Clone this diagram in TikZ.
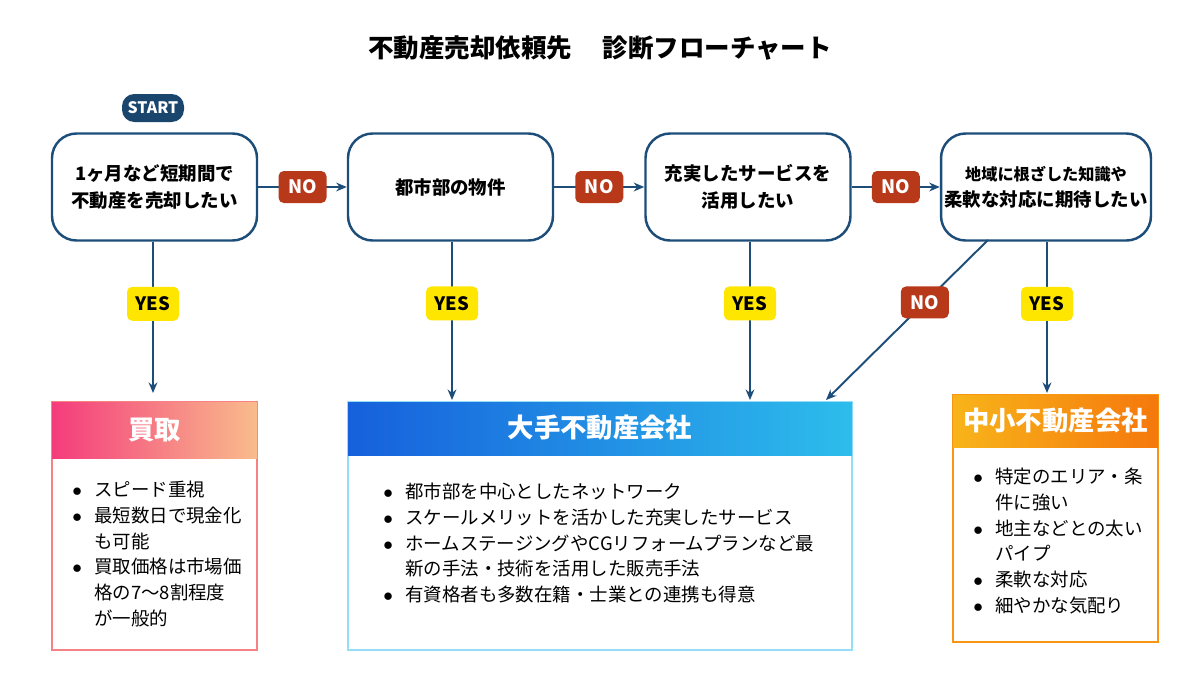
\documentclass[tikz,border=0pt]{standalone}
\usepackage{fontspec}
\setmainfont{Noto Sans CJK JP}
\usetikzlibrary{arrows.meta}
\definecolor{navy}{HTML}{1D4E7A}
\definecolor{nored}{HTML}{B8391A}
\definecolor{yes}{HTML}{FFE600}
\definecolor{pinkA}{HTML}{F43C7C}
\definecolor{peachB}{HTML}{F9BC8C}
\definecolor{blueA}{HTML}{1660DC}
\definecolor{cyanB}{HTML}{2DBDEC}
\definecolor{orA}{HTML}{F8B41A}
\definecolor{orB}{HTML}{F5780C}
\begin{document}
\begin{tikzpicture}[x=0.02cm,y=-0.02cm,
 proc/.style={draw=navy,line width=1.4pt,rounded corners=14pt,minimum width=205*0.02cm,minimum height=107*0.02cm,align=center,font=\fontsize{10.5}{15}\selectfont\bfseries,fill=white,inner xsep=2pt},
 nolab/.style={fill=nored,text=white,rounded corners=3pt,minimum width=48*0.02cm,minimum height=32*0.02cm,font=\fontsize{10.5}{12}\selectfont\bfseries,inner sep=0pt},
 yeslab/.style={fill=yes,text=black,rounded corners=3pt,minimum width=52*0.02cm,minimum height=34*0.02cm,font=\fontsize{10.5}{12}\selectfont\bfseries,inner sep=0pt},
 arr/.style={draw=navy,line width=1.1pt,-{Stealth[length=6pt,width=5pt]}},
 hdr/.style={font=\fontsize{15}{18}\selectfont\bfseries,text=white},
 lst/.style={anchor=north west,inner sep=0pt,align=left,font=\fontsize{10.5}{14.7}\selectfont}]
\useasboundingbox (0,0) rectangle (1200,690);
\fill[white] (0,0) rectangle (1200,690);
\node (title) at (600,48) {\fontsize{14.5}{16}\selectfont\bfseries 不動産売却依頼先\hspace{1.2em}診断フローチャート};
\node[fill=navy!90!black,text=white,rounded corners=7pt,minimum width=62*0.02cm,minimum height=28*0.02cm,inner sep=0pt,font=\fontsize{9}{10}\selectfont\bfseries] (start) at (153,108) {START};
\node[proc] (b1) at (154.5,187) {1ヶ月など短期間で\\不動産を売却したい};
\node[proc] (b2) at (450.5,187) {都市部の物件};
\node[proc] (b3) at (748,187) {充実したサービスを\\活用したい};
\node[proc] (b4) at (1046,187) {\fontsize{9.2}{15}\selectfont 地域に根ざした知識や\\柔軟な対応に期待したい};
% bottom boxes
\draw[line width=1.5pt,draw=pinkA!45!peachB] (52,402) rectangle (257,650);
\shade[left color=pinkA,right color=peachB] (52,402) rectangle (257,458);
\node[hdr] (kaitori) at (154.5,430) {買取};
\draw[line width=1.5pt,draw=cyanB!50!white] (348,402) rectangle (852,650);
\shade[left color=blueA,right color=cyanB] (348,402) rectangle (852,455);
\node[hdr] (ote) at (600,428) {大手不動産会社};
\draw[line width=1.5pt,draw=orA!50!orB] (953,395) rectangle (1158,642);
\shade[left color=orA,right color=orB] (953,395) rectangle (1158,447);
\node[hdr] (chusho) at (1055.5,421) {中小不動産会社};
\node[lst] (l1) at (72,478) {\begin{tabular}{@{}l@{\hspace{7pt}}l@{}}$\bullet$&スピード重視\\$\bullet$&最短数日で現金化\\&も可能\\$\bullet$&買取価格は市場価\\&格の7〜8割程度\\&が一般的\end{tabular}};
\node[lst] (l2) at (383,480) {\begin{tabular}{@{}l@{\hspace{7pt}}l@{}}$\bullet$&都市部を中心としたネットワーク\\$\bullet$&スケールメリットを活かした充実したサービス\\$\bullet$&ホームステージングやCGリフォームプランなど最\\&新の手法・技術を活用した販売手法\\$\bullet$&有資格者も多数在籍・士業との連携も得意\end{tabular}};
\node[lst] (l3) at (973,465) {\begin{tabular}{@{}l@{\hspace{7pt}}l@{}}$\bullet$&特定のエリア・条\\&件に強い\\$\bullet$&地主などとの太い\\&パイプ\\$\bullet$&柔軟な対応\\$\bullet$&細やかな気配り\end{tabular}};
\coordinate (t1) at (153,393);
\coordinate (t2) at (452,400);
\coordinate (t3) at (750,400);
\coordinate (t4) at (1047,393);
\coordinate (t5) at (826,400);
\coordinate (s5) at (988,240);
% arrows
\draw[arr] (b1) -- (b2) node[nolab,midway] (n1) {NO};
\draw[arr] (b2) -- (b3) node[nolab,midway] (n2) {NO};
\draw[arr] (b3) -- (b4) node[nolab,midway] (n3) {NO};
\draw[arr] (b1.south -| t1) -- (t1) node[yeslab,pos=0.41] (y1) {YES};
\draw[arr] (b2.south -| t2) -- (t2) node[yeslab,pos=0.39] (y2) {YES};
\draw[arr] (b3.south -| t3) -- (t3) node[yeslab,pos=0.39] (y3) {YES};
\draw[arr] (b4.south -| t4) -- (t4) node[yeslab,pos=0.41] (y4) {YES};
\draw[arr] (s5) -- (t5) node[nolab,pos=0.39] (n4) {NO};
\end{tikzpicture}
\end{document}
